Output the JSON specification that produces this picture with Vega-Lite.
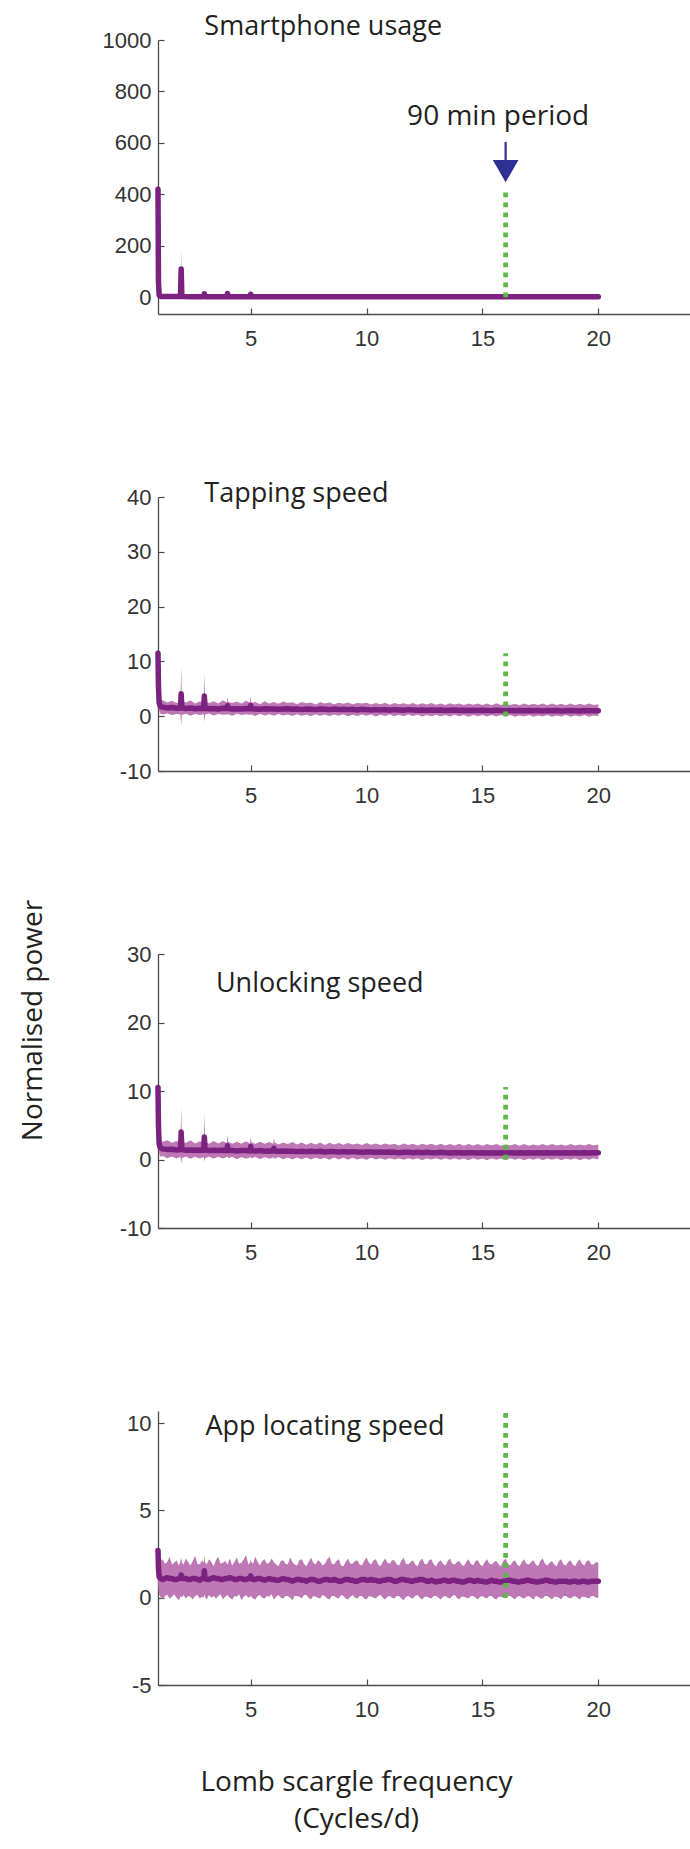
{
  "$schema": "https://vega.github.io/schema/vega-lite/v6.json",
  "background": "white",
  "padding": {"left": 19, "top": 12, "right": 0, "bottom": 4},
  "bounds": "flush",
  "spacing": 183,
  "config": {
    "view": {"stroke": null},
    "axis": {"grid": false, "domainColor": "#4a4a4a", "domainWidth": 1.3, "tickColor": "#4a4a4a", "tickWidth": 1.2, "tickSize": -6, "labelFont": "Liberation Sans", "labelFontSize": 22, "labelColor": "#333333", "labelOverlap": false, "labelFlush": false, "labelExpr": "'' + datum.value", "titleFont": "Open Sans", "titleFontWeight": "normal", "titleFontSize": 28, "titleColor": "#231f20"},
    "axisX": {"labelPadding": 20},
    "axisY": {"labelPadding": 13}
  },
  "datasets": {
    "p1": [
      {"f":1,"m":420,"l":412,"h":428},{"f":1.02,"m":60,"l":45,"h":75},{"f":1.05,"m":8,"l":3,"h":13},{"f":1.1,"m":3.5,"l":0,"h":8},
      {"f":1.5,"m":3,"l":0,"h":7},{"f":1.97,"m":3,"l":0,"h":7},{"f":2,"m":110,"l":35,"h":188},{"f":2.03,"m":3,"l":0,"h":7},
      {"f":2.5,"m":2.5,"l":0,"h":6},{"f":2.97,"m":2.5,"l":0,"h":6},{"f":3,"m":14,"l":4,"h":26},{"f":3.03,"m":2.5,"l":0,"h":6},
      {"f":3.5,"m":2.5,"l":0,"h":6},{"f":3.97,"m":2.5,"l":0,"h":6},{"f":4,"m":15,"l":5,"h":28},{"f":4.03,"m":2.5,"l":0,"h":6},
      {"f":4.5,"m":2.5,"l":0,"h":5},{"f":4.97,"m":2.5,"l":0,"h":5},{"f":5,"m":12,"l":4,"h":22},{"f":5.03,"m":2.5,"l":0,"h":5},
      {"f":5.5,"m":2,"l":0,"h":5},{"f":6,"m":2.5,"l":0,"h":5},{"f":6.5,"m":2,"l":0,"h":5},{"f":7,"m":2.5,"l":0,"h":5},
      {"f":7.5,"m":2,"l":0,"h":5},{"f":8,"m":2,"l":0,"h":5},{"f":8.5,"m":2.5,"l":0,"h":5},{"f":9,"m":2,"l":0,"h":5},
      {"f":9.5,"m":2,"l":0,"h":5},{"f":10,"m":2.5,"l":0,"h":5},{"f":10.5,"m":2,"l":0,"h":5},{"f":11,"m":2,"l":0,"h":5},
      {"f":11.5,"m":2.5,"l":0,"h":5},{"f":12,"m":2,"l":0,"h":5},{"f":12.5,"m":2,"l":0,"h":5},{"f":13,"m":2,"l":0,"h":5},
      {"f":13.5,"m":2.5,"l":0,"h":5},{"f":14,"m":2,"l":0,"h":5},{"f":14.5,"m":2,"l":0,"h":5},{"f":15,"m":2,"l":0,"h":5},
      {"f":15.5,"m":2.5,"l":0,"h":5},{"f":16,"m":2,"l":0,"h":5},{"f":16.5,"m":2,"l":0,"h":5},{"f":17,"m":2,"l":0,"h":5},
      {"f":17.5,"m":2.5,"l":0,"h":5},{"f":18,"m":2,"l":0,"h":5},{"f":18.5,"m":2,"l":0,"h":5},{"f":19,"m":2,"l":0,"h":5},
      {"f":19.5,"m":2,"l":0,"h":5},{"f":20,"m":2,"l":0,"h":5}
    ],
    "p2": [
      {"f":1,"m":11.5,"l":10.5,"h":12},{"f":1.02,"m":5.5,"l":3.8,"h":7},{"f":1.05,"m":2.4,"l":0.9,"h":3.6},{"f":1.1,"m":1.8,"l":0.5,"h":3},
      {"f":1.2,"m":1.65,"l":0.3,"h":2.9},{"f":1.4,"m":1.5,"l":0.5,"h":2.5},{"f":1.6,"m":1.6,"l":0.2,"h":2.8},{"f":1.8,"m":1.45,"l":0.4,"h":2.4},
      {"f":1.97,"m":1.5,"l":0.3,"h":2.7},{"f":2,"m":4.1,"l":-1.7,"h":9},{"f":2.03,"m":1.55,"l":0.2,"h":2.8},{"f":2.2,"m":1.4,"l":0.45,"h":2.5},
      {"f":2.4,"m":1.5,"l":0.1,"h":2.9},{"f":2.6,"m":1.35,"l":0.4,"h":2.3},{"f":2.8,"m":1.45,"l":0.2,"h":2.7},{"f":2.97,"m":1.4,"l":0.35,"h":2.6},
      {"f":3,"m":3.7,"l":-1,"h":7.8},{"f":3.03,"m":1.45,"l":0.3,"h":2.8},{"f":3.2,"m":1.35,"l":0.5,"h":2.4},{"f":3.4,"m":1.4,"l":0.15,"h":2.75},
      {"f":3.6,"m":1.3,"l":0.4,"h":2.3},{"f":3.8,"m":1.45,"l":0.25,"h":2.9},{"f":3.97,"m":1.4,"l":0.3,"h":2.5},{"f":4,"m":1.9,"l":0.3,"h":3.4},
      {"f":4.03,"m":1.4,"l":0.35,"h":2.6},{"f":4.2,"m":1.3,"l":0.1,"h":2.4},{"f":4.4,"m":1.35,"l":0.45,"h":2.7},{"f":4.6,"m":1.3,"l":0.2,"h":2.3},
      {"f":4.8,"m":1.4,"l":0.35,"h":2.8},{"f":4.97,"m":1.35,"l":0.2,"h":2.5},{"f":5,"m":1.95,"l":0.4,"h":3.7},{"f":5.03,"m":1.35,"l":0.3,"h":2.45},
      {"f":5.2,"m":1.3,"l":0.05,"h":2.6},{"f":5.4,"m":1.25,"l":0.4,"h":2.2},{"f":5.6,"m":1.35,"l":0.15,"h":2.75},{"f":5.8,"m":1.3,"l":0.35,"h":2.3},
      {"f":6,"m":1.3,"l":0.1,"h":2.6},{"f":6.2,"m":1.25,"l":0.4,"h":2.25},{"f":6.4,"m":1.3,"l":0.15,"h":2.7},{"f":6.6,"m":1.35,"l":0.3,"h":2.4},
      {"f":6.8,"m":1.25,"l":0.05,"h":2.55},{"f":7,"m":1.3,"l":0.35,"h":2.2},{"f":7.2,"m":1.2,"l":0.1,"h":2.6},{"f":7.4,"m":1.3,"l":0.3,"h":2.35},
      {"f":7.6,"m":1.25,"l":0,"h":2.5},{"f":7.8,"m":1.2,"l":0.35,"h":2.15},{"f":8,"m":1.3,"l":0.1,"h":2.55},{"f":8.2,"m":1.25,"l":0.3,"h":2.3},
      {"f":8.4,"m":1.2,"l":0.05,"h":2.5},{"f":8.6,"m":1.3,"l":0.3,"h":2.2},{"f":8.8,"m":1.2,"l":0.1,"h":2.45},{"f":9,"m":1.25,"l":0.35,"h":2.25},
      {"f":9.2,"m":1.2,"l":0,"h":2.5},{"f":9.4,"m":1.25,"l":0.25,"h":2.2},{"f":9.6,"m":1.15,"l":0.05,"h":2.4},{"f":9.8,"m":1.25,"l":0.3,"h":2.3},
      {"f":10,"m":1.2,"l":0.1,"h":2.45},{"f":10.2,"m":1.15,"l":0.3,"h":2.15},{"f":10.4,"m":1.2,"l":-0.05,"h":2.4},{"f":10.6,"m":1.15,"l":0.25,"h":2.2},
      {"f":10.8,"m":1.2,"l":0.05,"h":2.45},{"f":11,"m":1.1,"l":0.3,"h":2.1},{"f":11.2,"m":1.2,"l":0,"h":2.4},{"f":11.4,"m":1.15,"l":0.25,"h":2.2},
      {"f":11.6,"m":1.1,"l":0,"h":2.35},{"f":11.8,"m":1.2,"l":0.3,"h":2.15},{"f":12,"m":1.15,"l":0.05,"h":2.4},{"f":12.2,"m":1.1,"l":0.25,"h":2.1},
      {"f":12.4,"m":1.15,"l":-0.05,"h":2.35},{"f":12.6,"m":1.1,"l":0.2,"h":2.15},{"f":12.8,"m":1.15,"l":0,"h":2.4},{"f":13,"m":1.1,"l":0.25,"h":2.1},
      {"f":13.2,"m":1.15,"l":0,"h":2.3},{"f":13.4,"m":1.05,"l":0.2,"h":2.05},{"f":13.6,"m":1.1,"l":-0.05,"h":2.35},{"f":13.8,"m":1.15,"l":0.25,"h":2.15},
      {"f":14,"m":1.05,"l":0,"h":2.3},{"f":14.2,"m":1.1,"l":0.2,"h":2.05},{"f":14.4,"m":1.05,"l":-0.1,"h":2.3},{"f":14.6,"m":1.1,"l":0.2,"h":2.1},
      {"f":14.8,"m":1.05,"l":0,"h":2.3},{"f":15,"m":1.1,"l":0.2,"h":2.05},{"f":15.2,"m":1.05,"l":-0.05,"h":2.3},{"f":15.4,"m":1,"l":0.2,"h":2},
      {"f":15.6,"m":1.1,"l":-0.05,"h":2.35},{"f":15.8,"m":1.05,"l":0.2,"h":2.05},{"f":16,"m":1,"l":-0.05,"h":2.3},{"f":16.2,"m":1.05,"l":0.2,"h":2.05},
      {"f":16.4,"m":1,"l":-0.1,"h":2.25},{"f":16.6,"m":1.05,"l":0.15,"h":2},{"f":16.8,"m":1,"l":-0.05,"h":2.3},{"f":17,"m":1.05,"l":0.2,"h":2.05},
      {"f":17.2,"m":1,"l":-0.1,"h":2.25},{"f":17.4,"m":1.05,"l":0.15,"h":2.05},{"f":17.6,"m":0.95,"l":-0.05,"h":2.3},{"f":17.8,"m":1.05,"l":0.2,"h":2},
      {"f":18,"m":1,"l":-0.1,"h":2.3},{"f":18.2,"m":1.05,"l":0.15,"h":2.05},{"f":18.4,"m":0.95,"l":-0.05,"h":2.25},{"f":18.6,"m":1,"l":0.2,"h":2},
      {"f":18.8,"m":1.05,"l":-0.1,"h":2.3},{"f":19,"m":1,"l":0.15,"h":2},{"f":19.2,"m":0.95,"l":-0.05,"h":2.25},{"f":19.4,"m":1.05,"l":0.2,"h":2.05},
      {"f":19.6,"m":1,"l":-0.1,"h":2.3},{"f":19.8,"m":1,"l":0.15,"h":2.05},{"f":20,"m":1,"l":0,"h":2.2}
    ],
    "p3": [
      {"f":1,"m":10.5,"l":9.8,"h":11},{"f":1.02,"m":5,"l":3.5,"h":6.5},{"f":1.05,"m":2.2,"l":0.8,"h":3.3},{"f":1.1,"m":1.7,"l":0.4,"h":2.9},
      {"f":1.2,"m":1.55,"l":0.5,"h":2.6},{"f":1.4,"m":1.45,"l":0.2,"h":2.8},{"f":1.6,"m":1.5,"l":0.45,"h":2.45},{"f":1.8,"m":1.4,"l":0.15,"h":2.7},
      {"f":1.97,"m":1.45,"l":0.4,"h":2.5},{"f":2,"m":4,"l":-0.6,"h":7.6},{"f":2.03,"m":1.45,"l":0.2,"h":2.75},{"f":2.2,"m":1.35,"l":0.45,"h":2.4},
      {"f":2.4,"m":1.4,"l":0.1,"h":2.8},{"f":2.6,"m":1.35,"l":0.4,"h":2.35},{"f":2.8,"m":1.4,"l":0.15,"h":2.65},{"f":2.97,"m":1.35,"l":0.35,"h":2.5},
      {"f":3,"m":3.3,"l":-0.3,"h":6.6},{"f":3.03,"m":1.4,"l":0.2,"h":2.7},{"f":3.2,"m":1.3,"l":0.45,"h":2.3},{"f":3.4,"m":1.35,"l":0.1,"h":2.7},
      {"f":3.6,"m":1.3,"l":0.4,"h":2.35},{"f":3.8,"m":1.35,"l":0.15,"h":2.65},{"f":3.97,"m":1.3,"l":0.35,"h":2.4},{"f":4,"m":2,"l":0.5,"h":3.6},
      {"f":4.03,"m":1.3,"l":0.2,"h":2.6},{"f":4.2,"m":1.3,"l":0.4,"h":2.3},{"f":4.4,"m":1.25,"l":0.05,"h":2.6},{"f":4.6,"m":1.3,"l":0.35,"h":2.3},
      {"f":4.8,"m":1.3,"l":0.1,"h":2.65},{"f":4.97,"m":1.25,"l":0.3,"h":2.35},{"f":5,"m":1.9,"l":0.4,"h":3.3},{"f":5.03,"m":1.3,"l":0.15,"h":2.55},
      {"f":5.2,"m":1.25,"l":0.4,"h":2.25},{"f":5.4,"m":1.3,"l":0.05,"h":2.6},{"f":5.6,"m":1.2,"l":0.35,"h":2.3},{"f":5.8,"m":1.25,"l":0.1,"h":2.55},
      {"f":5.97,"m":1.25,"l":0.3,"h":2.3},{"f":6,"m":1.65,"l":0.3,"h":3.2},{"f":6.03,"m":1.25,"l":0.1,"h":2.5},{"f":6.2,"m":1.2,"l":0.35,"h":2.2},
      {"f":6.4,"m":1.25,"l":0.05,"h":2.5},{"f":6.6,"m":1.2,"l":0.3,"h":2.25},{"f":6.8,"m":1.2,"l":0,"h":2.55},{"f":7,"m":1.15,"l":0.3,"h":2.2},
      {"f":7.2,"m":1.2,"l":0.05,"h":2.5},{"f":7.4,"m":1.15,"l":0.3,"h":2.15},{"f":7.6,"m":1.2,"l":0,"h":2.45},{"f":7.8,"m":1.15,"l":0.3,"h":2.2},
      {"f":8,"m":1.2,"l":0.05,"h":2.5},{"f":8.2,"m":1.1,"l":0.25,"h":2.1},{"f":8.4,"m":1.15,"l":-0.05,"h":2.45},{"f":8.6,"m":1.15,"l":0.3,"h":2.2},
      {"f":8.8,"m":1.1,"l":0,"h":2.4},{"f":9,"m":1.15,"l":0.25,"h":2.15},{"f":9.2,"m":1.1,"l":-0.05,"h":2.4},{"f":9.4,"m":1.15,"l":0.25,"h":2.2},
      {"f":9.6,"m":1.1,"l":0,"h":2.35},{"f":9.8,"m":1.05,"l":0.2,"h":2.1},{"f":10,"m":1.1,"l":-0.05,"h":2.4},{"f":10.2,"m":1.1,"l":0.25,"h":2.15},
      {"f":10.4,"m":1.05,"l":0,"h":2.35},{"f":10.6,"m":1.1,"l":0.2,"h":2.1},{"f":10.8,"m":1.05,"l":-0.05,"h":2.35},{"f":11,"m":1.1,"l":0.2,"h":2.15},
      {"f":11.2,"m":1.05,"l":0,"h":2.3},{"f":11.4,"m":1,"l":0.2,"h":2.05},{"f":11.6,"m":1.05,"l":-0.05,"h":2.35},{"f":11.8,"m":1.05,"l":0.2,"h":2.1},
      {"f":12,"m":1,"l":0,"h":2.3},{"f":12.2,"m":1.05,"l":0.2,"h":2.05},{"f":12.4,"m":1,"l":-0.1,"h":2.3},{"f":12.6,"m":1.05,"l":0.2,"h":2.1},
      {"f":12.8,"m":1,"l":0,"h":2.3},{"f":13,"m":1,"l":0.2,"h":2.05},{"f":13.2,"m":1.05,"l":-0.05,"h":2.3},{"f":13.4,"m":1,"l":0.2,"h":2.05},
      {"f":13.6,"m":0.95,"l":-0.05,"h":2.25},{"f":13.8,"m":1,"l":0.2,"h":2.05},{"f":14,"m":1,"l":-0.05,"h":2.3},{"f":14.2,"m":0.95,"l":0.15,"h":2},
      {"f":14.4,"m":1,"l":-0.1,"h":2.25},{"f":14.6,"m":1,"l":0.2,"h":2.05},{"f":14.8,"m":0.95,"l":-0.05,"h":2.25},{"f":15,"m":1,"l":0.15,"h":2},
      {"f":15.2,"m":0.95,"l":-0.1,"h":2.25},{"f":15.4,"m":1,"l":0.2,"h":2.05},{"f":15.6,"m":0.95,"l":-0.05,"h":2.25},{"f":15.8,"m":1,"l":0.15,"h":2},
      {"f":16,"m":0.95,"l":-0.1,"h":2.2},{"f":16.2,"m":1,"l":0.2,"h":2.05},{"f":16.4,"m":0.95,"l":-0.05,"h":2.25},{"f":16.6,"m":1,"l":0.15,"h":2},
      {"f":16.8,"m":0.95,"l":-0.1,"h":2.25},{"f":17,"m":1,"l":0.15,"h":2},{"f":17.2,"m":0.95,"l":-0.05,"h":2.2},{"f":17.4,"m":1,"l":0.2,"h":2.05},
      {"f":17.6,"m":0.95,"l":-0.1,"h":2.25},{"f":17.8,"m":1,"l":0.15,"h":2},{"f":18,"m":0.95,"l":-0.05,"h":2.25},{"f":18.2,"m":1,"l":0.2,"h":2.05},
      {"f":18.4,"m":0.95,"l":-0.1,"h":2.2},{"f":18.6,"m":1,"l":0.15,"h":2},{"f":18.8,"m":0.95,"l":-0.05,"h":2.25},{"f":19,"m":1,"l":0.2,"h":2.05},
      {"f":19.2,"m":0.95,"l":-0.1,"h":2.2},{"f":19.4,"m":1,"l":0.15,"h":2.05},{"f":19.6,"m":0.95,"l":-0.05,"h":2.25},{"f":19.8,"m":1,"l":0.2,"h":2.05},
      {"f":20,"m":1,"l":0,"h":2.2}
    ],
    "p4": [
      {"f":1,"m":2.7,"l":1.3,"h":2.9},{"f":1.02,"m":1.7,"l":0.6,"h":2.7},{"f":1.05,"m":1.2,"l":0.2,"h":2.3},{"f":1.1,"m":1.1,"l":0.05,"h":2.1},
      {"f":1.2,"m":1.05,"l":-0.1,"h":2.2},{"f":1.3,"m":1.1,"l":0.1,"h":1.95},{"f":1.4,"m":1.15,"l":0.15,"h":2.05},{"f":1.5,"m":1.1,"l":-0.05,"h":2.35},
      {"f":1.6,"m":1.1,"l":0.05,"h":1.9},{"f":1.7,"m":1.05,"l":0.2,"h":2},{"f":1.8,"m":1.05,"l":0,"h":2.15},{"f":1.9,"m":1.1,"l":-0.15,"h":1.85},
      {"f":1.97,"m":1.1,"l":0.05,"h":2.1},{"f":2,"m":1.3,"l":0.1,"h":2.3},{"f":2.03,"m":1.15,"l":0,"h":2},{"f":2.1,"m":1.1,"l":0.15,"h":1.9},
      {"f":2.2,"m":1.1,"l":-0.05,"h":2.25},{"f":2.3,"m":1.05,"l":0.1,"h":2.05},{"f":2.4,"m":1.05,"l":0.05,"h":1.85},{"f":2.5,"m":1.1,"l":-0.1,"h":2.1},
      {"f":2.6,"m":1.1,"l":0.1,"h":2.4},{"f":2.7,"m":1.05,"l":0.15,"h":1.95},{"f":2.8,"m":1,"l":-0.05,"h":1.9},{"f":2.9,"m":1.1,"l":0.05,"h":2.15},
      {"f":2.97,"m":1.1,"l":0,"h":2},{"f":3,"m":1.55,"l":0.2,"h":2.4},{"f":3.03,"m":1.1,"l":0.05,"h":2.05},{"f":3.1,"m":1.05,"l":-0.1,"h":1.9},
      {"f":3.2,"m":1.05,"l":0.15,"h":2.2},{"f":3.3,"m":1.1,"l":0,"h":2.05},{"f":3.4,"m":1.15,"l":0.1,"h":1.8},{"f":3.5,"m":1.1,"l":-0.05,"h":2.15},
      {"f":3.6,"m":1.1,"l":0.1,"h":2.35},{"f":3.7,"m":1.05,"l":0.2,"h":1.95},{"f":3.8,"m":1.05,"l":-0.1,"h":2},{"f":3.9,"m":1.1,"l":0.05,"h":2.1},
      {"f":4,"m":1.1,"l":0.15,"h":1.9},{"f":4.1,"m":1.15,"l":0,"h":2.25},{"f":4.2,"m":1.1,"l":-0.1,"h":1.85},{"f":4.3,"m":1.05,"l":0.1,"h":2.05},
      {"f":4.4,"m":1.05,"l":0.05,"h":2.3},{"f":4.5,"m":1.1,"l":0.2,"h":1.95},{"f":4.6,"m":1.1,"l":-0.15,"h":2},{"f":4.7,"m":1.05,"l":0.05,"h":2.2},
      {"f":4.8,"m":1.05,"l":0.15,"h":2.45},{"f":4.9,"m":1.1,"l":0,"h":1.9},{"f":4.97,"m":1.1,"l":0.05,"h":2},{"f":5,"m":1.25,"l":0.1,"h":2.2},
      {"f":5.03,"m":1.1,"l":0.05,"h":2.05},{"f":5.1,"m":1.05,"l":-0.05,"h":1.95},{"f":5.2,"m":1.05,"l":-0.1,"h":2.35},{"f":5.3,"m":1.1,"l":0.1,"h":2.05},
      {"f":5.4,"m":1.1,"l":0.15,"h":1.85},{"f":5.5,"m":1.05,"l":0,"h":2.1},{"f":5.6,"m":1,"l":-0.05,"h":2.2},{"f":5.7,"m":1.05,"l":0.1,"h":1.95},
      {"f":5.8,"m":1.1,"l":0.05,"h":2},{"f":5.9,"m":1.05,"l":0.2,"h":2.25},{"f":6,"m":1.05,"l":-0.1,"h":2.05},{"f":6.1,"m":1,"l":0.05,"h":1.9},
      {"f":6.2,"m":1,"l":0.15,"h":1.8},{"f":6.3,"m":1.05,"l":0,"h":2.1},{"f":6.4,"m":1.1,"l":-0.05,"h":2.15},{"f":6.5,"m":1.05,"l":0.1,"h":1.95},
      {"f":6.6,"m":1.05,"l":0.1,"h":1.9},{"f":6.7,"m":1,"l":0,"h":2.3},{"f":6.8,"m":0.95,"l":-0.15,"h":2.05},{"f":6.9,"m":1,"l":0.1,"h":1.9},
      {"f":7,"m":1.05,"l":0.1,"h":1.85},{"f":7.1,"m":1.05,"l":0.05,"h":2.15},{"f":7.2,"m":1,"l":-0.05,"h":2.2},{"f":7.3,"m":1,"l":0.15,"h":1.95},
      {"f":7.4,"m":0.95,"l":0.15,"h":1.8},{"f":7.5,"m":1,"l":0,"h":2.05},{"f":7.6,"m":1.05,"l":-0.1,"h":2.3},{"f":7.7,"m":1.05,"l":0.1,"h":2},
      {"f":7.8,"m":1,"l":0.05,"h":1.9},{"f":7.9,"m":0.95,"l":0,"h":2.15},{"f":8,"m":0.95,"l":-0.05,"h":2.05},{"f":8.1,"m":1,"l":0.15,"h":1.85},
      {"f":8.2,"m":1.05,"l":0.1,"h":1.95},{"f":8.3,"m":1.05,"l":-0.05,"h":2.2},{"f":8.4,"m":1,"l":-0.1,"h":2.35},{"f":8.5,"m":1,"l":0.1,"h":1.95},
      {"f":8.6,"m":1.05,"l":0.1,"h":1.9},{"f":8.7,"m":1,"l":0,"h":2.1},{"f":8.8,"m":0.95,"l":-0.05,"h":2.2},{"f":8.9,"m":0.95,"l":0.15,"h":1.85},
      {"f":9,"m":1,"l":0.1,"h":1.8},{"f":9.1,"m":1.05,"l":-0.05,"h":2.05},{"f":9.2,"m":1.05,"l":-0.1,"h":2.25},{"f":9.3,"m":1,"l":0.05,"h":1.95},
      {"f":9.4,"m":1,"l":0.15,"h":1.95},{"f":9.5,"m":0.95,"l":0,"h":2.1},{"f":9.6,"m":0.95,"l":-0.05,"h":2.15},{"f":9.7,"m":1,"l":0.1,"h":1.9},
      {"f":9.8,"m":1.05,"l":0.1,"h":1.85},{"f":9.9,"m":1.05,"l":-0.05,"h":2.1},{"f":10,"m":1,"l":-0.1,"h":2.3},{"f":10.1,"m":1,"l":0.1,"h":2},
      {"f":10.2,"m":1.05,"l":0.05,"h":1.9},{"f":10.3,"m":1,"l":0,"h":2.15},{"f":10.4,"m":1,"l":-0.05,"h":2.2},{"f":10.5,"m":0.95,"l":0.1,"h":1.9},
      {"f":10.6,"m":0.95,"l":0.15,"h":1.8},{"f":10.7,"m":1,"l":0,"h":2.05},{"f":10.8,"m":1,"l":-0.1,"h":2.25},{"f":10.9,"m":1.05,"l":0.05,"h":2},
      {"f":11,"m":1.05,"l":0.1,"h":1.95},{"f":11.1,"m":1,"l":0,"h":2.15},{"f":11.2,"m":0.95,"l":-0.05,"h":2.15},{"f":11.3,"m":0.95,"l":0.1,"h":1.9},
      {"f":11.4,"m":1,"l":0.1,"h":1.85},{"f":11.5,"m":1.05,"l":-0.05,"h":2.1},{"f":11.6,"m":1.05,"l":-0.15,"h":2.3},{"f":11.7,"m":1,"l":0.05,"h":1.95},
      {"f":11.8,"m":1,"l":0.1,"h":1.9},{"f":11.9,"m":0.95,"l":0,"h":2.05},{"f":12,"m":0.95,"l":-0.05,"h":2.15},{"f":12.1,"m":1,"l":0.1,"h":1.9},
      {"f":12.2,"m":1,"l":0.15,"h":1.8},{"f":12.3,"m":1.05,"l":0,"h":2.1},{"f":12.4,"m":1.05,"l":-0.1,"h":2.25},{"f":12.5,"m":1,"l":0.05,"h":1.95},
      {"f":12.6,"m":0.95,"l":0.05,"h":1.9},{"f":12.7,"m":0.95,"l":0,"h":2.15},{"f":12.8,"m":1,"l":-0.05,"h":2.2},{"f":12.9,"m":0.95,"l":0.1,"h":1.9},
      {"f":13,"m":0.9,"l":0.1,"h":1.8},{"f":13.1,"m":0.95,"l":0,"h":2.05},{"f":13.2,"m":0.95,"l":-0.1,"h":2.15},{"f":13.3,"m":1,"l":0.05,"h":1.95},
      {"f":13.4,"m":1,"l":0.1,"h":1.85},{"f":13.5,"m":0.95,"l":0,"h":2.1},{"f":13.6,"m":0.95,"l":-0.05,"h":2.25},{"f":13.7,"m":1,"l":0.1,"h":1.95},
      {"f":13.8,"m":1,"l":0.15,"h":1.9},{"f":13.9,"m":0.95,"l":0,"h":2.05},{"f":14,"m":0.95,"l":-0.1,"h":2.1},{"f":14.1,"m":0.9,"l":0.05,"h":1.9},
      {"f":14.2,"m":0.9,"l":0.05,"h":1.8},{"f":14.3,"m":0.95,"l":0,"h":2.05},{"f":14.4,"m":1,"l":-0.05,"h":2.2},{"f":14.5,"m":1,"l":0.1,"h":1.95},
      {"f":14.6,"m":0.95,"l":0.1,"h":1.85},{"f":14.7,"m":0.95,"l":0,"h":2.1},{"f":14.8,"m":1,"l":-0.1,"h":2.15},{"f":14.9,"m":0.95,"l":0.05,"h":1.9},
      {"f":15,"m":0.95,"l":0.1,"h":1.8},{"f":15.1,"m":0.9,"l":0,"h":2.05},{"f":15.2,"m":0.9,"l":-0.05,"h":2.2},{"f":15.3,"m":0.95,"l":0.1,"h":1.95},
      {"f":15.4,"m":1,"l":0.1,"h":1.9},{"f":15.5,"m":0.95,"l":-0.05,"h":2.05},{"f":15.6,"m":0.95,"l":-0.1,"h":2.1},{"f":15.7,"m":0.9,"l":0.05,"h":1.9},
      {"f":15.8,"m":0.9,"l":0.05,"h":1.8},{"f":15.9,"m":0.95,"l":0,"h":2.1},{"f":16,"m":0.95,"l":-0.05,"h":2.25},{"f":16.1,"m":1,"l":0.1,"h":1.95},
      {"f":16.2,"m":1,"l":0.1,"h":1.85},{"f":16.3,"m":0.95,"l":0,"h":2.05},{"f":16.4,"m":0.95,"l":-0.1,"h":2.15},{"f":16.5,"m":0.9,"l":0.05,"h":1.9},
      {"f":16.6,"m":0.9,"l":0.1,"h":1.8},{"f":16.7,"m":0.95,"l":0,"h":2.05},{"f":16.8,"m":0.95,"l":-0.05,"h":2.2},{"f":16.9,"m":1,"l":0.05,"h":1.95},
      {"f":17,"m":1,"l":0.1,"h":1.9},{"f":17.1,"m":0.95,"l":0,"h":2.05},{"f":17.2,"m":0.95,"l":-0.1,"h":2.15},{"f":17.3,"m":0.9,"l":0.1,"h":1.9},
      {"f":17.4,"m":0.9,"l":0.05,"h":1.8},{"f":17.5,"m":0.95,"l":-0.05,"h":2.1},{"f":17.6,"m":0.95,"l":-0.05,"h":2.25},{"f":17.7,"m":1,"l":0.1,"h":1.95},
      {"f":17.8,"m":1,"l":0.1,"h":1.85},{"f":17.9,"m":0.95,"l":0,"h":2},{"f":18,"m":0.95,"l":-0.1,"h":2.1},{"f":18.1,"m":0.9,"l":0.05,"h":1.9},
      {"f":18.2,"m":0.9,"l":0.05,"h":1.8},{"f":18.3,"m":0.95,"l":0,"h":2.1},{"f":18.4,"m":0.95,"l":-0.1,"h":2.2},{"f":18.5,"m":0.95,"l":0.1,"h":1.9},
      {"f":18.6,"m":0.95,"l":0.1,"h":1.85},{"f":18.7,"m":0.9,"l":0,"h":2.05},{"f":18.8,"m":0.9,"l":-0.05,"h":2.15},{"f":18.9,"m":0.95,"l":0.05,"h":1.9},
      {"f":19,"m":0.95,"l":0.1,"h":1.8},{"f":19.1,"m":0.9,"l":0,"h":2.05},{"f":19.2,"m":0.9,"l":-0.1,"h":2.2},{"f":19.3,"m":0.95,"l":0.05,"h":1.95},
      {"f":19.4,"m":0.95,"l":0.05,"h":1.85},{"f":19.5,"m":0.9,"l":0,"h":2.1},{"f":19.6,"m":0.9,"l":-0.05,"h":2.15},{"f":19.7,"m":0.95,"l":0.1,"h":1.9},
      {"f":19.8,"m":0.95,"l":0.1,"h":1.9},{"f":19.9,"m":0.95,"l":0,"h":2.05},{"f":20,"m":0.95,"l":0,"h":2}
    ]
  },
  "vconcat": [
    {
      "width": 533, "height": 274,
      "data": {"name": "p1"},
      "layer": [
        {"mark": {"type": "area", "color": "#bd78b5", "opacity": 1},
         "encoding": {
           "x": {"field": "f", "type": "quantitative", "scale": {"domain": [1, 24], "nice": false, "zero": false}, "axis": {"values": [5, 10, 15, 20], "title": null}},
           "y": {"field": "l", "type": "quantitative", "scale": {"domain": [-65, 1000], "nice": false, "zero": false}, "axis": {"values": [0, 200, 400, 600, 800, 1000], "title": null}},
           "y2": {"field": "h"}}},
        {"mark": {"type": "line", "color": "#7b2180", "strokeWidth": 5.5, "strokeJoin": "round", "strokeCap": "round"},
         "encoding": {
           "x": {"field": "f", "type": "quantitative", "scale": {"domain": [1, 24], "nice": false, "zero": false}},
           "y": {"field": "m", "type": "quantitative", "scale": {"domain": [-65, 1000], "nice": false, "zero": false}}}},
        {"data": {"values": [{}]},
         "mark": {"type": "rule", "color": "#5cb947", "strokeWidth": 4.7, "strokeDash": [4.7, 5.3]},
         "encoding": {
           "x": {"datum": 16, "scale": {"domain": [1, 24], "nice": false, "zero": false}},
           "y": {"datum": 0, "scale": {"domain": [-65, 1000], "nice": false, "zero": false}},
           "y2": {"datum": 418}}},
        {"data": {"values": [{}]},
         "mark": {"type": "rule", "color": "#2e3192", "strokeWidth": 2.2},
         "encoding": {
           "x": {"datum": 16, "scale": {"domain": [1, 24], "nice": false, "zero": false}},
           "y": {"datum": 530, "scale": {"domain": [-65, 1000], "nice": false, "zero": false}},
           "y2": {"datum": 604}}},
        {"data": {"values": [{}]},
         "mark": {"type": "point", "shape": "triangle-down", "size": 660, "filled": true, "opacity": 1, "color": "#2e3192", "strokeWidth": 0},
         "encoding": {
           "x": {"datum": 16, "scale": {"domain": [1, 24], "nice": false, "zero": false}},
           "y": {"datum": 490, "scale": {"domain": [-65, 1000], "nice": false, "zero": false}}}},
        {"data": {"values": [{}]},
         "mark": {"type": "text", "text": "Smartphone usage", "align": "left", "baseline": "alphabetic", "font": "Open Sans", "fontSize": 27, "color": "#231f20"},
         "encoding": {
           "x": {"datum": 3, "scale": {"domain": [1, 24], "nice": false, "zero": false}},
           "y": {"datum": 1020, "scale": {"domain": [-65, 1000], "nice": false, "zero": false}}}},
        {"data": {"values": [{}]},
         "mark": {"type": "text", "text": "90 min period", "align": "left", "baseline": "alphabetic", "font": "Open Sans", "fontSize": 28, "color": "#231f20"},
         "encoding": {
           "x": {"datum": 11.75, "scale": {"domain": [1, 24], "nice": false, "zero": false}},
           "y": {"datum": 669, "scale": {"domain": [-65, 1000], "nice": false, "zero": false}}}}
      ]
    },
    {
      "width": 533, "height": 274,
      "data": {"name": "p2"},
      "layer": [
        {"mark": {"type": "area", "color": "#bd78b5", "opacity": 1},
         "encoding": {
           "x": {"field": "f", "type": "quantitative", "scale": {"domain": [1, 24], "nice": false, "zero": false}, "axis": {"values": [5, 10, 15, 20], "title": null}},
           "y": {"field": "l", "type": "quantitative", "scale": {"domain": [-10, 40], "nice": false, "zero": false}, "axis": {"values": [-10, 0, 10, 20, 30, 40], "title": null}},
           "y2": {"field": "h"}}},
        {"mark": {"type": "line", "color": "#7b2180", "strokeWidth": 5.5, "strokeJoin": "round", "strokeCap": "round"},
         "encoding": {
           "x": {"field": "f", "type": "quantitative", "scale": {"domain": [1, 24], "nice": false, "zero": false}},
           "y": {"field": "m", "type": "quantitative", "scale": {"domain": [-10, 40], "nice": false, "zero": false}}}},
        {"data": {"values": [{}]},
         "mark": {"type": "rule", "color": "#5cb947", "strokeWidth": 4.7, "strokeDash": [4.7, 5.3]},
         "encoding": {
           "x": {"datum": 16, "scale": {"domain": [1, 24], "nice": false, "zero": false}},
           "y": {"datum": 0, "scale": {"domain": [-10, 40], "nice": false, "zero": false}},
           "y2": {"datum": 11.5}}},
        {"data": {"values": [{}]},
         "mark": {"type": "text", "text": "Tapping speed", "align": "left", "baseline": "alphabetic", "font": "Open Sans", "fontSize": 27, "color": "#231f20"},
         "encoding": {
           "x": {"datum": 3, "scale": {"domain": [1, 24], "nice": false, "zero": false}},
           "y": {"datum": 39.1, "scale": {"domain": [-10, 40], "nice": false, "zero": false}}}}
      ]
    },
    {
      "width": 533, "height": 274,
      "data": {"name": "p3"},
      "layer": [
        {"mark": {"type": "area", "color": "#bd78b5", "opacity": 1},
         "encoding": {
           "x": {"field": "f", "type": "quantitative", "scale": {"domain": [1, 24], "nice": false, "zero": false}, "axis": {"values": [5, 10, 15, 20], "title": null}},
           "y": {"field": "l", "type": "quantitative", "scale": {"domain": [-10, 30], "nice": false, "zero": false}, "axis": {"values": [-10, 0, 10, 20, 30], "title": "Normalised power", "titleX": -125, "titleY": 66, "titleAngle": -90, "titleAlign": "center", "titleBaseline": "middle"}},
           "y2": {"field": "h"}}},
        {"mark": {"type": "line", "color": "#7b2180", "strokeWidth": 5.5, "strokeJoin": "round", "strokeCap": "round"},
         "encoding": {
           "x": {"field": "f", "type": "quantitative", "scale": {"domain": [1, 24], "nice": false, "zero": false}},
           "y": {"field": "m", "type": "quantitative", "scale": {"domain": [-10, 30], "nice": false, "zero": false}}}},
        {"data": {"values": [{}]},
         "mark": {"type": "rule", "color": "#5cb947", "strokeWidth": 4.7, "strokeDash": [4.7, 5.3]},
         "encoding": {
           "x": {"datum": 16, "scale": {"domain": [1, 24], "nice": false, "zero": false}},
           "y": {"datum": 0, "scale": {"domain": [-10, 30], "nice": false, "zero": false}},
           "y2": {"datum": 10.6}}},
        {"data": {"values": [{}]},
         "mark": {"type": "text", "text": "Unlocking speed", "align": "left", "baseline": "alphabetic", "font": "Open Sans", "fontSize": 27, "color": "#231f20"},
         "encoding": {
           "x": {"datum": 3.5, "scale": {"domain": [1, 24], "nice": false, "zero": false}},
           "y": {"datum": 24.5, "scale": {"domain": [-10, 30], "nice": false, "zero": false}}}}
      ]
    },
    {
      "width": 533, "height": 274,
      "data": {"name": "p4"},
      "layer": [
        {"mark": {"type": "area", "color": "#bd78b5", "opacity": 1},
         "encoding": {
           "x": {"field": "f", "type": "quantitative", "scale": {"domain": [1, 24], "nice": false, "zero": false}, "axis": {"values": [5, 10, 15, 20], "title": ["Lomb scargle  frequency", "(Cycles/d)"], "titleX": 198, "titleY": 105, "titleAlign": "center", "titleBaseline": "alphabetic", "titleLineHeight": 37}},
           "y": {"field": "l", "type": "quantitative", "scale": {"domain": [-5, 10.7], "nice": false, "zero": false}, "axis": {"values": [-5, 0, 5, 10], "title": null}},
           "y2": {"field": "h"}}},
        {"mark": {"type": "line", "color": "#7b2180", "strokeWidth": 5.5, "strokeJoin": "round", "strokeCap": "round"},
         "encoding": {
           "x": {"field": "f", "type": "quantitative", "scale": {"domain": [1, 24], "nice": false, "zero": false}},
           "y": {"field": "m", "type": "quantitative", "scale": {"domain": [-5, 10.7], "nice": false, "zero": false}}}},
        {"data": {"values": [{}]},
         "mark": {"type": "rule", "color": "#5cb947", "strokeWidth": 4.7, "strokeDash": [4.7, 5.3]},
         "encoding": {
           "x": {"datum": 16, "scale": {"domain": [1, 24], "nice": false, "zero": false}},
           "y": {"datum": 0, "scale": {"domain": [-5, 10.7], "nice": false, "zero": false}},
           "y2": {"datum": 10.7}}},
        {"data": {"values": [{}]},
         "mark": {"type": "text", "text": "App locating speed", "align": "left", "baseline": "alphabetic", "font": "Open Sans", "fontSize": 27, "color": "#231f20"},
         "encoding": {
           "x": {"datum": 3.05, "scale": {"domain": [1, 24], "nice": false, "zero": false}},
           "y": {"datum": 9.3, "scale": {"domain": [-5, 10.7], "nice": false, "zero": false}}}}
      ]
    }
  ]
}
